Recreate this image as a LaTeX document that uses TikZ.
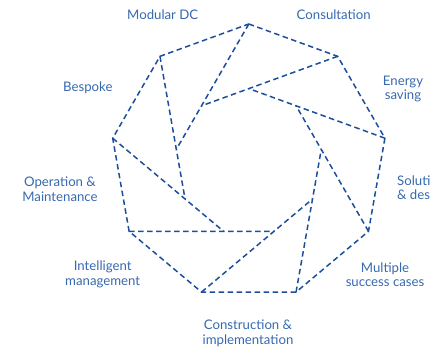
\documentclass[tikz,border=0pt]{standalone}
\usepackage{fontspec}
\setmainfont{Lato}
\usetikzlibrary{calc}
\definecolor{linec}{RGB}{28,78,155}
\definecolor{textc}{RGB}{55,105,175}
\begin{document}
\begin{tikzpicture}[x=1pt,y=1pt,
  dline/.style={draw=linec,line width=1.5pt,dash pattern=on 5.5pt off 3.5pt,line join=miter},
  lbl/.style={text=textc,font=\fontsize{13.2}{14.6}\selectfont,align=center,inner sep=0pt}]
\useasboundingbox (0,-347) rectangle (430,0);
\clip (0,-347) rectangle (430,0);
\coordinate (C) at (248.8,-162.2);
\foreach \k in {1,...,9}{
  \pgfmathsetmacro{\a}{90-40*(\k-1)}
  \coordinate (V\k) at ($(C)+(\a:138.2)$);
  \coordinate (E\k) at ($(C)+(\a+80:73.6)$);
}
\draw[dline] (V1) -- (V2) -- (V3) -- (V4) -- (V5) -- (V6) -- (V7) -- (V8) -- (V9) -- cycle;
\foreach \k in {1,...,9}{
  \draw[dline] (V\k) -- (E\k);
}
\node[lbl] (modular) at (162.7,-15) {Modular DC};
\node[lbl] (consult) at (333.7,-15) {Consultation};
\node[lbl] (energy) at (403,-89) {Energy\\saving};
\node[lbl] (bespoke) at (87.8,-87.5) {Bespoke};
\node[lbl] (operation) at (60,-189) {Operation \&\\Maintenance};
\node[lbl] (intel) at (102.7,-274.5) {Intelligent\\management};
\node[lbl] (constr) at (248,-333) {Construction \&\\implementation};
\node[lbl] (multiple) at (385,-274.5) {Multiple\\success cases};
\node[lbl,align=left,anchor=west] (solution) at (397,-189) {Solution\\\& design};
\end{tikzpicture}
\end{document}
